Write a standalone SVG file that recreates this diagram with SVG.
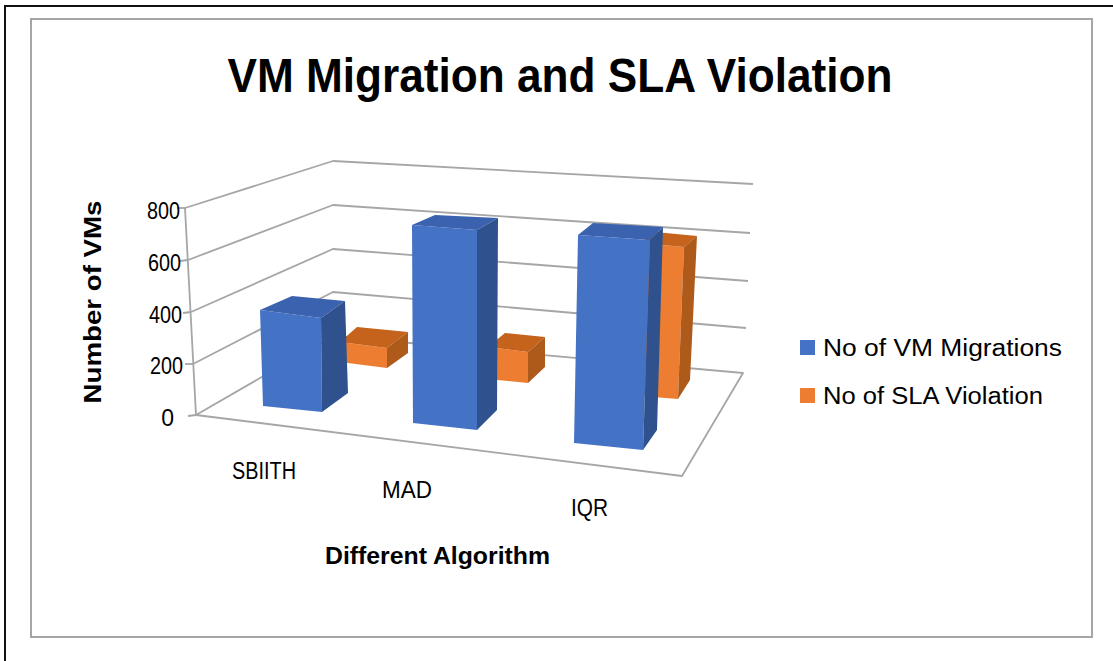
<svg xmlns="http://www.w3.org/2000/svg" width="1113" height="661" viewBox="0 0 1113 661">
<style>
.grid{fill:none;stroke:#A6A6A6;stroke-width:1.8;stroke-linejoin:round}
.bf{fill:#4472C4}.bt{fill:#3A62AE}.bs{fill:#2F528F}
.of{fill:#ED7D31}.ot{fill:#C5621C}.os{fill:#AE5A1B}
.t{font-family:"Liberation Sans",Arial,sans-serif;fill:#000}
.b{font-weight:bold}
</style>
<rect width="1113" height="661" fill="#fff"/>
<path d="M5,661 V6 H1113" fill="none" stroke="#111" stroke-width="2"/>
<rect x="31" y="19" width="1061" height="618" fill="#fff" stroke="#A6A6A6" stroke-width="2"/>
<g id="title"><text class="t b" x="560" y="92" font-size="48" text-anchor="middle" textLength="665" lengthAdjust="spacingAndGlyphs">VM Migration and SLA Violation</text></g>
<g id="axes">
<polyline class="grid" points="185,208 333,161 753,184"/>
<polyline class="grid" points="188,260 333,205 750,233"/>
<polyline class="grid" points="191,312 333,249 748,281"/>
<polyline class="grid" points="193,364 333,292 746,328"/>
<polygon class="grid" points="196,415 333,336 743,373 682,476"/>
<line class="grid" x1="185" y1="208" x2="196" y2="415"/>
<line class="grid" x1="177" y1="208" x2="185" y2="208"/>
<line class="grid" x1="180" y1="261" x2="188" y2="260"/>
<line class="grid" x1="183" y1="313" x2="191" y2="312"/>
<line class="grid" x1="185" y1="364" x2="193" y2="364"/>
<line class="grid" x1="188" y1="416" x2="196" y2="415"/>
</g>
<g id="ticks" class="t" font-size="23" text-anchor="end">
<text x="180" y="219" textLength="33" lengthAdjust="spacingAndGlyphs">800</text>
<text x="181" y="271" textLength="33" lengthAdjust="spacingAndGlyphs">600</text>
<text x="182" y="323" textLength="33" lengthAdjust="spacingAndGlyphs">400</text>
<text x="183" y="374" textLength="33" lengthAdjust="spacingAndGlyphs">200</text>
<text x="174" y="426">0</text>
</g>
<g id="ylabel"><text class="t b" font-size="23" text-anchor="middle" transform="translate(101,302) rotate(-90)" textLength="203" lengthAdjust="spacingAndGlyphs">Number of VMs</text></g>
<g id="bar-sbiith-sla">
<polygon class="of" points="340,342 387,348 387,368 340,362"/>
<polygon class="ot" points="340,342 357,327 408,332 387,348"/>
<polygon class="os" points="387,348 408,332 408,353 387,368"/>
</g>
<g id="bar-sbiith-vm">
<polygon class="bf" points="260,310 321,318 322,412 263,406"/>
<polygon class="bt" points="260,310 292,296 345,301 321,318"/>
<polygon class="bs" points="321,318 345,301 348,393 322,412"/>
</g>
<g id="bar-mad-sla">
<polygon class="of" points="488,347 528,352 528,383 488,379"/>
<polygon class="ot" points="488,347 505,333 545,337 528,352"/>
<polygon class="os" points="528,352 545,337 545,367 528,383"/>
</g>
<g id="bar-mad-vm">
<polygon class="bf" points="412,225 477,230 477,430 413,423"/>
<polygon class="bt" points="412,225 435,215 498,218 477,230"/>
<polygon class="bs" points="477,230 498,218 497,410 477,430"/>
</g>
<g id="bar-iqr-sla">
<polygon class="of" points="640,243 684,247 678,399 640,396"/>
<polygon class="ot" points="640,243 655,232 697,236 684,247"/>
<polygon class="os" points="684,247 697,236 690,380 678,399"/>
</g>
<g id="bar-iqr-vm">
<polygon class="bf" points="578,235 650,240 643,450 574,443"/>
<polygon class="bt" points="578,235 593,223 663,227 650,240"/>
<polygon class="bs" points="650,240 663,227 657,430 643,450"/>
</g>
<g id="categories" class="t" font-size="23">
<text x="232" y="479" textLength="64" lengthAdjust="spacingAndGlyphs">SBIITH</text>
<text x="382" y="498" textLength="50" lengthAdjust="spacingAndGlyphs">MAD</text>
<text x="571" y="516" textLength="37" lengthAdjust="spacingAndGlyphs">IQR</text>
</g>
<g id="xlabel"><text class="t b" x="325" y="564" font-size="23" textLength="225" lengthAdjust="spacingAndGlyphs">Different Algorithm</text></g>
<g id="legend">
<rect x="800" y="340" width="15" height="15" fill="#4472C4"/>
<text class="t" x="823" y="356" font-size="23" textLength="239" lengthAdjust="spacingAndGlyphs">No of VM Migrations</text>
<rect x="800" y="388" width="15" height="15" fill="#ED7D31"/>
<text class="t" x="823" y="404" font-size="23" textLength="220" lengthAdjust="spacingAndGlyphs">No of SLA Violation</text>
</g>
</svg>
